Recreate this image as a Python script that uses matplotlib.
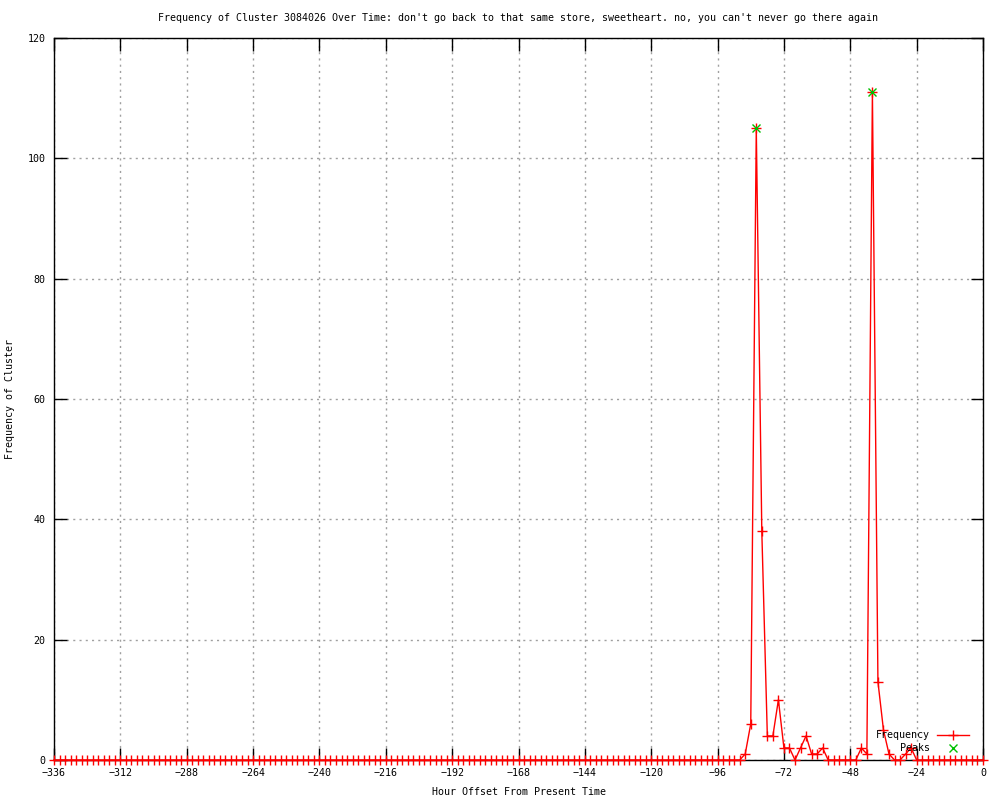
import numpy as np
import matplotlib
matplotlib.use("Agg")
import matplotlib.pyplot as plt

# gnuplot-ish look
plt.rcParams['font.family'] = ['DejaVu Sans Mono']
plt.rcParams['font.size'] = 7.2

# hour offsets, one bin every 2 hours
hours = np.arange(-336, 1, 2)

# frequency per bin, -336 .. -90 all zero
freq = [0] * 124 + [
    0, 1, 6, 105, 38, 4, 4, 10, 2, 2,      # -88 .. -70
    0, 2, 4, 1, 1, 2, 0, 0, 0, 0,          # -68 .. -50
    0, 0, 2, 1, 111, 13, 5, 1, 0, 0,       # -48 .. -30
    1, 2, 0,                               # -28 .. -24
] + [0] * 12                               # -22 .. 0

peak_hours = [-82, -40]
peak_vals = [105, 111]

title = ("Frequency of Cluster 3084026 Over Time: don't go back to that same store, "
         "sweetheart. no, you can't never go there again")

fig = plt.figure(figsize=(10, 8), dpi=100)
ax = fig.add_axes([0.054, 0.05, 0.929, 0.9025])

ax.plot(hours, freq, color='red', lw=1, marker='+', ms=6.5, mew=1, label='Frequency',
        clip_on=False, zorder=3)
ax.plot(peak_hours, peak_vals, ls='none', color='#00c000', marker='x', ms=6, mew=1,
        label='Peaks', zorder=4)

ax.set_xlim(-336, 0)
ax.set_ylim(0, 120)
ax.set_xticks(np.arange(-336, 1, 24))
ax.set_yticks(np.arange(0, 121, 20))

ax.grid(True, color='#a0a0a0', ls=(0, (1.5, 3)), lw=1)
ax.set_axisbelow(True)
ax.tick_params(direction='in', length=9, width=1, top=True, right=True,
               labelsize=7.2, colors='black', pad=6)
for s in ax.spines.values():
    s.set_linewidth(1)
    s.set_color('black')

ax.set_title(title, fontsize=7.2, pad=12)
ax.set_xlabel('Hour Offset From Present Time', fontsize=7.2, labelpad=6)
ax.set_ylabel('Frequency of Cluster', fontsize=7.2, labelpad=9)

ax.legend(loc='lower right', bbox_to_anchor=(0.992, 0.0), frameon=False,
          markerfirst=False, fontsize=7.2, handlelength=3.2, handletextpad=0.7,
          labelspacing=0.3, borderaxespad=0.3)

fig.savefig('out.png', dpi=100)
